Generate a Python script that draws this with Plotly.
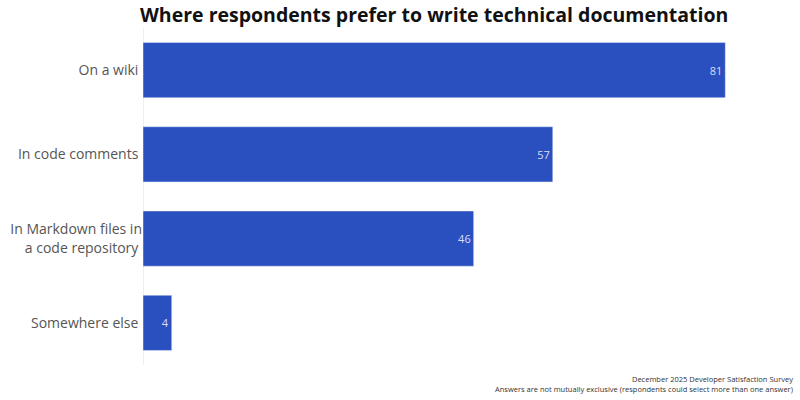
import plotly.graph_objects as go

categories = ["On a wiki", "In code comments", "In Markdown files in<br>a code repository", "Somewhere else"]
values = [81, 57, 46, 4]

fig = go.Figure(go.Bar(
    x=values, y=categories, orientation="h",
    marker=dict(color="#2a4fbf"),
    width=0.655,
    text=[str(v) for v in values], textposition="inside", insidetextanchor="end",
    textfont=dict(color="#d8defa", size=11, family="Open Sans"),
    cliponaxis=False,
))

fig.update_layout(
    width=800, height=400,
    margin=dict(l=141, r=10, t=28, b=35),
    paper_bgcolor="white", plot_bgcolor="white",
    showlegend=False,
    xaxis=dict(range=[0, 90], showgrid=False, showticklabels=False, zeroline=True,
               zerolinecolor="#eeeeee", zerolinewidth=1, fixedrange=True),
    yaxis=dict(categoryorder="array", categoryarray=categories[::-1],
               showgrid=False, ticks="", tickfont=dict(family="Open Sans", size=14, color="#555555"),
               ticksuffix=" "),
    annotations=[
        dict(text="<b>Where respondents prefer to write technical documentation</b>",
             xref="paper", yref="paper", x=-4 / 649, y=(365 - 29) / 337, xanchor="left", yanchor="bottom",
             borderpad=0, showarrow=False, font=dict(family="Open Sans", size=19.5, color="#111111")),
        dict(text="December 2025 Developer Satisfaction Survey<br>Answers are not mutually exclusive (respondents could select more than one answer)",
             xref="paper", yref="paper", x=1 + 5/649, y=-0.092, xanchor="right", yanchor="bottom",
             align="right", showarrow=False,
             font=dict(family="Open Sans", size=7.5, color="#333333")),
    ],
)

fig.write_html("out.html")
